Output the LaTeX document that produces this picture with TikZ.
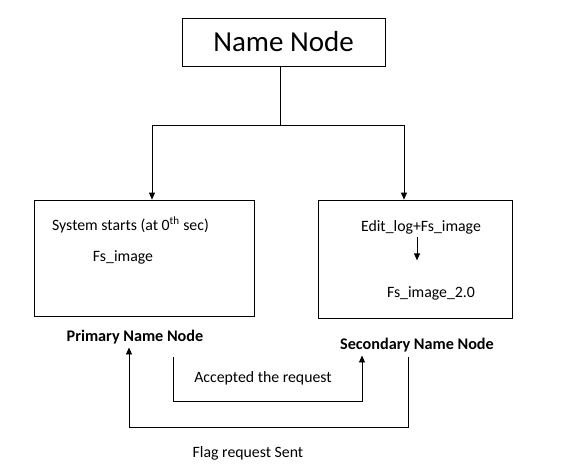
\documentclass[tikz,border=0pt]{standalone}
\usepackage{fontspec}
\setmainfont{Carlito}
\usetikzlibrary{positioning}
\usetikzlibrary{arrows.meta}

\begin{document}
\begin{tikzpicture}[x=1pt,y=-1pt,font=\fontsize{15.8}{19}\selectfont,
    box/.style={draw,line width=0.8pt,inner sep=0pt},
    arr/.style={line width=0.8pt,-{Triangle[length=7pt,width=6pt]}}]
        \useasboundingbox (0,0) rectangle (584,467);
        % boxes
        \node[box,minimum width=203pt,minimum height=48pt,font=\fontsize{29}{34}\selectfont] (name) at (283.5,42) {Name Node};
        \node[box,minimum width=220pt,minimum height=116pt] (prim) at (144,258) {};
        \node[box,minimum width=194pt,minimum height=118pt] (sec) at (415,259) {};
        % texts inside
        \node (start) at (130.5,225) {System starts (at 0\textsuperscript{th} sec)};
        \node (fs) at (123,257) {Fs\_image};
        \node (edit) at (421,227) {Edit\_log+Fs\_image};
        \node (fs2) at (431,293) {Fs\_image\_2.0};
        \draw[arr] ([xshift=-4pt]edit.south) -- ++(0,23);
        % labels
        \node[font=\fontsize{16.2}{19}\selectfont\bfseries] (plabel) at (135,337) {Primary Name Node};
        \node[font=\fontsize{16.2}{19}\selectfont\bfseries] (slabel) at (417,345) {Secondary Name Node};
        \node (acc) at (263,378) {Accepted the request};
        \node (flag) at (248,453) {Flag request Sent};
        % name node to both boxes
        \coordinate (split) at (280,125);
        \draw[line width=0.8pt] ([xshift=-3.5pt]name.south) -- (split);
        \draw[arr] (split) -| ([xshift=8pt]prim.north);
        \draw[arr] (split) -| ([xshift=-11pt]sec.north);
        % requests
        \coordinate (accA) at (173,357);
        \draw[arr] (accA) -- (173,401) -| ([xshift=-55pt]slabel.south);
        \coordinate (flagA) at (408,357);
        \draw[arr] (flagA) -- (408,427) -| ([xshift=-6pt]plabel.south);
\end{tikzpicture}
\end{document}
